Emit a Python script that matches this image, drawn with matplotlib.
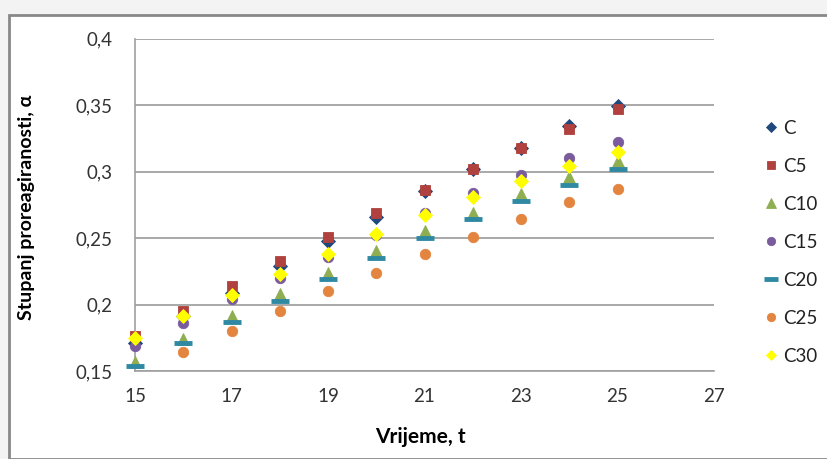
import matplotlib
matplotlib.use("Agg")
import matplotlib.pyplot as plt
import matplotlib.patches as patches
import numpy as np

plt.rcParams["font.family"] = ["Lato", "DejaVu Sans"]

vrijeme = [15, 16, 17, 18, 19, 20, 21, 22, 23, 24, 25]

serije = {
    "C":   [0.171, 0.191, 0.209, 0.229, 0.248, 0.266, 0.285, 0.302, 0.318, 0.334, 0.349],
    "C5":  [0.176, 0.195, 0.214, 0.233, 0.251, 0.269, 0.286, 0.302, 0.318, 0.332, 0.347],
    "C10": [0.157, 0.174, 0.191, 0.208, 0.224, 0.240, 0.255, 0.269, 0.283, 0.296, 0.308],
    "C15": [0.169, 0.186, 0.204, 0.220, 0.236, 0.252, 0.269, 0.284, 0.297, 0.310, 0.322],
    "C20": [0.154, 0.171, 0.187, 0.203, 0.219, 0.235, 0.250, 0.264, 0.278, 0.290, 0.302],
    "C25": [np.nan, 0.164, 0.180, 0.195, 0.210, 0.224, 0.238, 0.251, 0.264, 0.277, 0.287],
    "C30": [0.175, 0.191, 0.207, 0.223, 0.238, 0.253, 0.267, 0.281, 0.293, 0.304, 0.315],
}

stilovi = {
    "C":   dict(marker="D", ms=6.8, color="#1F497D"),
    "C5":  dict(marker="s", ms=7.5, color="#B0413E"),
    "C10": dict(marker="^", ms=8.5, color="#8FAE52"),
    "C15": dict(marker="o", ms=7.5, color="#7A5C9E"),
    "C20": dict(marker="_", ms=13, mew=3.5, color="#2F89A3"),
    "C25": dict(marker="o", ms=7.5, color="#E3843F"),
    "C30": dict(marker="D", ms=6.8, color="#FFFF00"),
}

W, H = 828, 459
fig = plt.figure(figsize=(W / 100, H / 100), dpi=100, facecolor="#f3f3f3")

# okvir grafikona
okvir = patches.Rectangle((9 / W, 0), 1, 1 - 15 / H, transform=fig.transFigure,
                          facecolor="white", edgecolor="#888888", linewidth=2,
                          zorder=-5)
fig.patches.append(okvir)

ax = fig.add_axes([135 / W, 1 - 371 / H, (714 - 135) / W, (371 - 38.5) / H])
ax.set_facecolor("none")
ax.set_zorder(2)

for i, (ime, vrij) in enumerate(serije.items()):
    st = stilovi[ime]
    ax.plot(vrijeme, vrij, linestyle="none", marker=st["marker"], markersize=st["ms"],
            color=st["color"], markeredgewidth=st.get("mew", 0.6),
            markeredgecolor=st["color"], label=ime, zorder=3 + i, clip_on=False)

ax.set_xlim(15, 27)
ax.set_ylim(0.15, 0.4)
ax.set_xticks([15, 17, 19, 21, 23, 25, 27])
ax.set_yticks([0.15, 0.2, 0.25, 0.3, 0.35, 0.4])
ax.set_yticklabels(["0,15", "0,2", "0,25", "0,3", "0,35", "0,4"])
ax.tick_params(length=0, labelsize=13.5, colors="#333333")
ax.tick_params(axis="y", pad=16)
ax.tick_params(axis="x", pad=12)
ax.yaxis.grid(True, color="#9a9a9a", linewidth=1.2)
ax.set_axisbelow(True)
for s in ["top", "right"]:
    ax.spines[s].set_visible(False)
for s in ["left", "bottom"]:
    ax.spines[s].set_color("#a0a0a0")
    ax.spines[s].set_linewidth(1.2)

ax.set_xlabel("Vrijeme, t", fontsize=15, fontweight="bold")
ax.xaxis.set_label_coords(0.493, -0.168)
ax.set_ylabel("Stupanj proreagiranosti, α", fontsize=14, fontweight="bold")
ax.yaxis.set_label_coords(-0.172, 0.492)

leg = fig.legend(loc="center left", bbox_to_anchor=(745 / W, 1 - 242 / H),
                 frameon=False, fontsize=13.5, handlelength=1.0,
                 handletextpad=0.15, labelspacing=1.12, markerscale=0.8)
for t in leg.get_texts():
    t.set_color("#222222")

plt.savefig("out.png", dpi=100, facecolor=fig.get_facecolor())
print("[ok] out.png")
